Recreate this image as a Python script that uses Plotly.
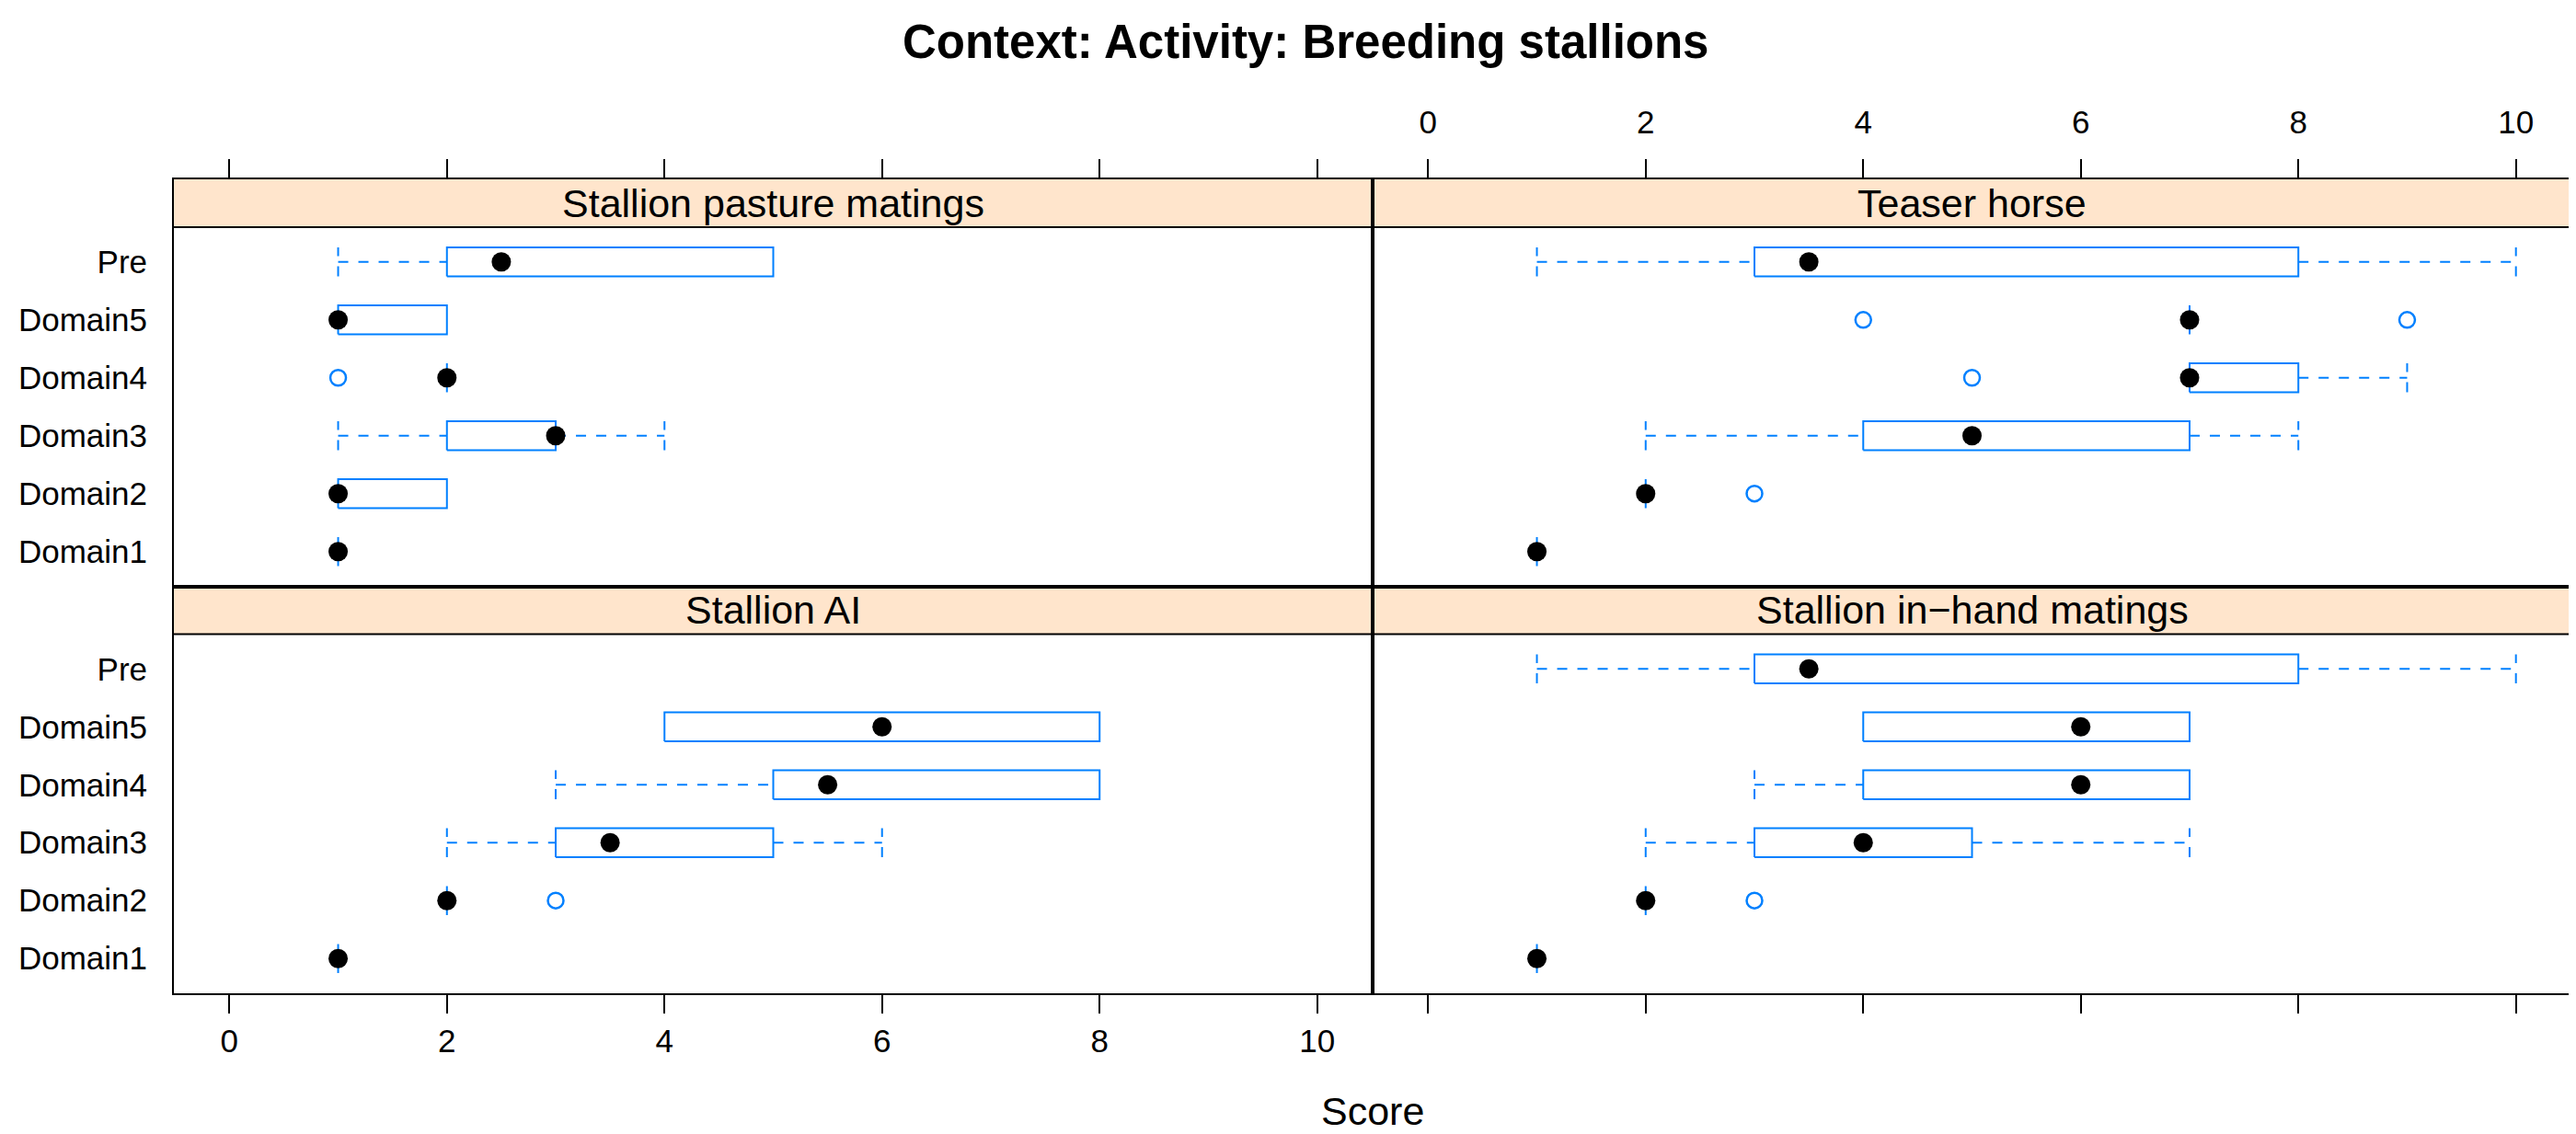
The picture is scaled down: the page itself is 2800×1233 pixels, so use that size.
import plotly.graph_objs as go
from plotly.subplots import make_subplots

# Levels shown on the y axis (bottom to top) and the score ticks
levels = ["Domain1", "Domain2", "Domain3", "Domain4", "Domain5", "Pre"]
x_ticks = [0, 2, 4, 6, 8, 10]

# Stallion pasture matings
pasture_lower = [1, 1, 1, 2, 1, 1]
pasture_q1 = [1, 1, 2, 2, 1, 2]
pasture_median = [1, 1, 3, 2, 1, 2.5]
pasture_q3 = [1, 2, 3, 2, 2, 5]
pasture_upper = [1, 2, 4, 2, 2, 5]
pasture_outliers = [[], [], [], [1], [], []]

# Teaser horse
teaser_lower = [1, 2, 2, 7, 7, 1]
teaser_q1 = [1, 2, 4, 7, 7, 3]
teaser_median = [1, 2, 5, 7, 7, 3.5]
teaser_q3 = [1, 2, 7, 8, 7, 8]
teaser_upper = [1, 2, 8, 9, 7, 10]
teaser_outliers = [[], [3], [], [5], [4, 9], []]

# Stallion AI (no "Pre" data)
ai_lower = [1, 2, 2, 3, 4, None]
ai_q1 = [1, 2, 3, 5, 4, None]
ai_median = [1, 2, 3.5, 5.5, 6, None]
ai_q3 = [1, 2, 5, 8, 8, None]
ai_upper = [1, 2, 6, 8, 8, None]
ai_outliers = [[], [3], [], [], [], []]

# Stallion in-hand matings
inhand_lower = [1, 2, 2, 3, 4, 1]
inhand_q1 = [1, 2, 3, 4, 4, 3]
inhand_median = [1, 2, 4, 6, 6, 3.5]
inhand_q3 = [1, 2, 5, 7, 7, 8]
inhand_upper = [1, 2, 7, 7, 7, 10]
inhand_outliers = [[], [3], [], [], [], []]

# Style constants
blue = "#0080ff"
strip_color = "#ffe5cc"
font_family = "Liberation Sans, Arial, sans-serif"
half = 0.25  # half box height in level units
strip_units = 52 / 63  # strip height expressed in level units
y_range = [0.4, 6.6 + strip_units]
strip_frac = 6.2 / (6.2 + strip_units)
dash = "11px,11px"


def add_panel(fig, row, col, title, lower, q1, med, q3, upper, outliers):
    box_x, box_y = [], []
    wx, wy = [], []
    cx, cy = [], []
    ox, oy = [], []
    mx, my = [], []
    for i in range(len(levels)):
        r = i + 1
        for o in outliers[i]:
            ox.append(o)
            oy.append(r)
        if med[i] is None:
            continue
        box_x += [q1[i], q3[i], q3[i], q1[i], q1[i], None]
        box_y += [r - half, r - half, r + half, r + half, r - half, None]
        if lower[i] < q1[i]:
            wx += [lower[i], q1[i], None]
            wy += [r, r, None]
            cx += [lower[i], lower[i], None]
            cy += [r - half, r + half, None]
        if upper[i] > q3[i]:
            wx += [q3[i], upper[i], None]
            wy += [r, r, None]
            cx += [upper[i], upper[i], None]
            cy += [r - half, r + half, None]
        mx.append(med[i])
        my.append(r)

    fig.add_trace(
        go.Scatter(x=box_x, y=box_y, mode="lines",
                   line=dict(color=blue, width=2)),
        row=row, col=col,
    )
    fig.add_trace(
        go.Scatter(x=wx, y=wy, mode="lines",
                   line=dict(color=blue, width=2, dash=dash)),
        row=row, col=col,
    )
    fig.add_trace(
        go.Scatter(x=cx, y=cy, mode="lines",
                   line=dict(color=blue, width=2, dash=dash)),
        row=row, col=col,
    )
    fig.add_trace(
        go.Scatter(x=ox, y=oy, mode="markers",
                   marker=dict(symbol="circle-open", size=17, color=blue,
                               line=dict(width=2.5, color=blue))),
        row=row, col=col,
    )
    fig.add_trace(
        go.Scatter(x=mx, y=my, mode="markers",
                   marker=dict(symbol="circle", size=21, color="black")),
        row=row, col=col,
    )

    # strip on top of the panel
    fig.add_shape(type="rect", xref="x domain", yref="y domain",
                  x0=0, x1=1, y0=strip_frac, y1=1,
                  fillcolor=strip_color, line_width=0, layer="below",
                  row=row, col=col)
    fig.add_shape(type="line", xref="x domain", yref="y domain",
                  x0=0, x1=1, y0=strip_frac, y1=strip_frac,
                  line=dict(color="black", width=2), row=row, col=col)
    fig.add_annotation(xref="x domain", yref="y domain",
                       x=0.5, y=(strip_frac + 1) / 2, text=title,
                       xanchor="center", yanchor="middle",
                       showarrow=False, font=dict(size=43, color="black"),
                       row=row, col=col)


def main():
    fig = make_subplots(rows=2, cols=2, horizontal_spacing=0,
                        vertical_spacing=0)

    add_panel(fig, 1, 1, "Stallion pasture matings", pasture_lower,
              pasture_q1, pasture_median, pasture_q3, pasture_upper,
              pasture_outliers)
    add_panel(fig, 1, 2, "Teaser horse", teaser_lower, teaser_q1,
              teaser_median, teaser_q3, teaser_upper, teaser_outliers)
    add_panel(fig, 2, 1, "Stallion AI", ai_lower, ai_q1, ai_median,
              ai_q3, ai_upper, ai_outliers)
    add_panel(fig, 2, 2, "Stallion in\u2212hand matings", inhand_lower,
              inhand_q1, inhand_median, inhand_q3, inhand_upper,
              inhand_outliers)

    for row in [1, 2]:
        for col in [1, 2]:
            fig.update_xaxes(
                range=[-0.51, 10.51], tickvals=x_ticks,
                ticks="outside", ticklen=20, tickwidth=2, tickcolor="black",
                showline=True, linewidth=2, linecolor="black", mirror=True,
                showgrid=False, zeroline=False,
                side="top" if row == 1 else "bottom",
                showticklabels=(row == 1 and col == 2) or (row == 2 and col == 1),
                ticklabelstandoff=14 if row == 1 else 0,
                tickfont=dict(size=35, color="black"),
                row=row, col=col,
            )
            fig.update_yaxes(
                range=y_range, tickvals=list(range(1, len(levels) + 1)),
                ticktext=levels, ticks="",
                showline=True, linewidth=2, linecolor="black", mirror=True,
                showgrid=False, zeroline=False,
                showticklabels=(col == 1), ticklabelstandoff=20,
                tickfont=dict(size=35, color="black"),
                row=row, col=col,
            )

    fig.add_annotation(xref="paper", yref="paper", x=0.5, y=-128 / 885,
                       yanchor="middle", text="Score", showarrow=False,
                       font=dict(size=43, color="black"))

    fig.update_layout(
        width=2800, height=1233,
        margin=dict(l=181, r=13, t=187, b=161),
        paper_bgcolor="white", plot_bgcolor="white",
        showlegend=False,
        font=dict(family=font_family, color="black"),
        title=dict(text="<b>Context: Activity: Breeding stallions</b>",
                   x=0.504, xref="container", xanchor="center",
                   y=1 - 37 / 1233, yref="container", yanchor="middle",
                   font=dict(size=51, color="black")),
    )

    fig.write_html("out.html")


if __name__ == "__main__":
    main()
